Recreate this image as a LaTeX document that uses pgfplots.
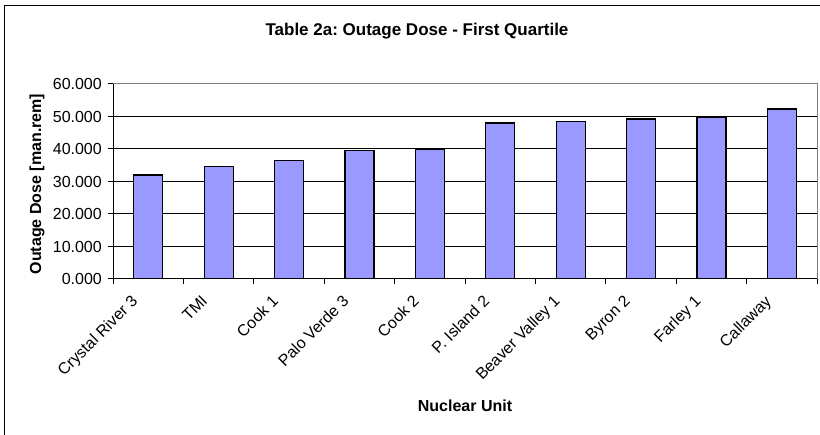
\documentclass[border=0pt]{standalone}
\usepackage{fontspec}
\setmainfont{Liberation Sans}
\usepackage{pgfplots}
\pgfplotsset{compat=1.18}
\definecolor{barfill}{HTML}{9999FF}
\definecolor{framegray}{HTML}{808080}
\begin{document}
\frenchspacing
\begin{tikzpicture}[x=1pt,y=1pt]
\path[use as bounding box] (0,0) rectangle (820,435);
\clip (0,0) rectangle (820,435);
\fill[white] (0,0) rectangle (820,435);
\draw[line width=1.5pt] (4.5,-20) rectangle (840,429.3);
\begin{axis}[
  at={(113pt,156pt)}, anchor=south west,
  scale only axis, width=704pt, height=195pt,
  xmin=-0.5, xmax=9.5, ymin=0, ymax=60,
  ybar, bar width=29pt,
  axis lines=left, axis line style={-, black, line width=1pt},
  xtick={0,...,9},
  xticklabels={Crystal River 3, TMI, Cook 1, Palo Verde 3, Cook 2, P. Island 2, Beaver Valley 1, Byron 2, Farley 1, Callaway},
  major x tick style={draw=none},
  minor xtick={-0.5,0.5,...,9.5},
  ytick={0,10,...,60},
  tick align=outside,
  major tick length=5pt, minor tick length=5pt,
  tick style={black, line width=1pt},
  ymajorgrids, major grid style={black, line width=1pt},
  yticklabel={\pgfmathprintnumber[fixed,fixed zerofill,precision=3,assume math mode=true]{\tick}},
  yticklabel style={font=\fontsize{16}{19}\selectfont, anchor=east, inner sep=0pt, xshift=-6pt},
  xticklabel style={font=\fontsize{16}{19}\selectfont, xshift=-18pt, yshift=-10pt, rotate=45, anchor=north east, inner sep=0pt},
]
\addplot[fill=barfill, draw=black, line width=1.2pt] coordinates {
(0,32.0) (1,34.6) (2,36.4) (3,39.6) (4,39.9) (5,48.0) (6,48.4) (7,49.2) (8,49.6) (9,52.3)};
\end{axis}
\draw[framegray, line width=1pt] (113,351) -- (817,351) -- (817,156);
\node[font=\bfseries\fontsize{17}{20}\selectfont] at (417,404) {Table 2a: Outage Dose - First Quartile};
\node[font=\bfseries\fontsize{16}{19}\selectfont] at (465,29) {Nuclear Unit};
\node[font=\bfseries\fontsize{16}{19}\selectfont, rotate=90] at (37,251) {Outage Dose [man.rem]};
\end{tikzpicture}
\end{document}
